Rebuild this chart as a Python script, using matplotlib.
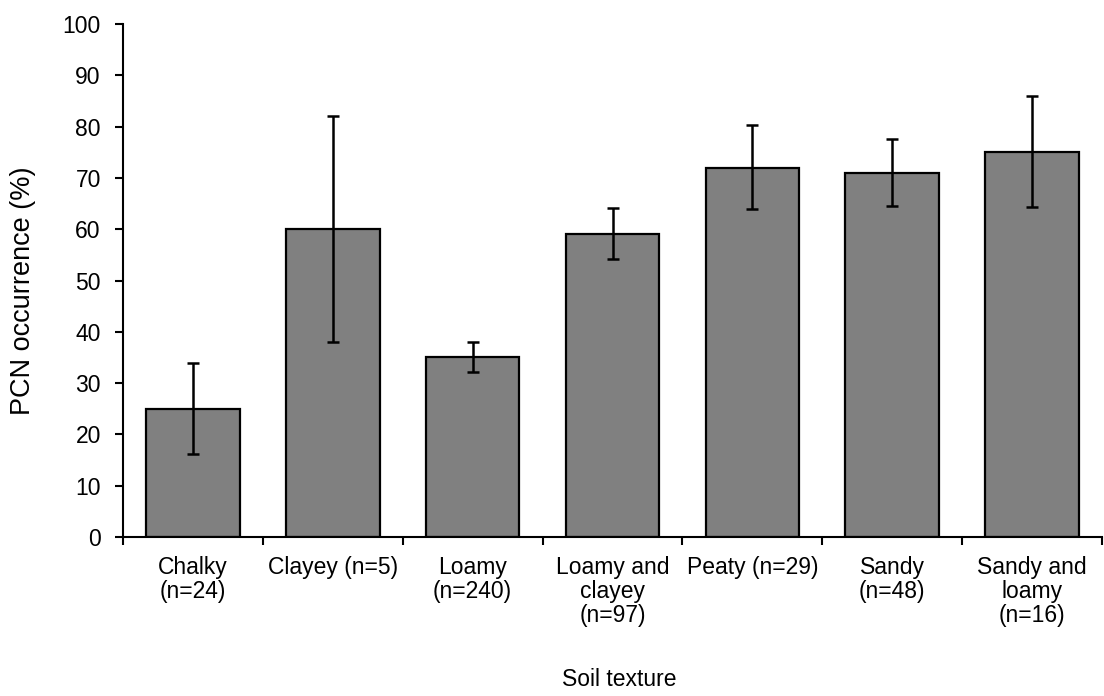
import numpy as np
import matplotlib.pyplot as plt

plt.rcParams['font.family'] = ['Liberation Sans', 'DejaVu Sans']

# PCN occurrence by soil texture, with asymmetric confidence limits
categories = ['Chalky\n(n=24)', 'Clayey (n=5)', 'Loamy\n(n=240)',
              'Loamy and\nclayey\n(n=97)', 'Peaty (n=29)', 'Sandy\n(n=48)',
              'Sandy and\nloamy\n(n=16)']
occurrence = [25, 60, 35, 59, 72, 71, 75]
lower_limit = [16.1, 38.1, 32.1, 54.1, 63.9, 64.5, 64.3]
upper_limit = [33.9, 82.1, 38.1, 64.1, 80.3, 77.6, 86.0]

x = np.arange(len(categories))
occ = np.array(occurrence)
yerr = [occ - np.array(lower_limit), np.array(upper_limit) - occ]

fig = plt.figure(figsize=(11.04, 6.96), dpi=100)
ax = fig.add_axes([123 / 1104, 1 - 537 / 696, (1102 - 123) / 1104, (537 - 24) / 696])

ax.bar(x, occ, width=0.67, color='#808080', edgecolor='black', linewidth=1.6,
       yerr=yerr, error_kw=dict(ecolor='black', elinewidth=1.8, capsize=4, capthick=1.8),
       zorder=2)

ax.set_xlim(-0.5, len(categories) - 0.5)
ax.set_ylim(0, 100)
ax.set_yticks(np.arange(0, 101, 10))

# ticks at category boundaries, labels at the bar centres
ax.set_xticks(np.arange(-0.5, len(categories), 1.0))
ax.set_xticklabels([])
ax.set_xticks(x, minor=True)
ax.set_xticklabels(categories, minor=True, fontsize=16.5, linespacing=1.04)
ax.tick_params(axis='x', which='minor', length=0, pad=14)
ax.tick_params(axis='x', which='major', length=6, width=1.5, direction='out')
ax.tick_params(axis='y', length=6, width=1.5, direction='out', labelsize=16.5, pad=10)

for side in ['top', 'right']:
    ax.spines[side].set_visible(False)
for side in ['left', 'bottom']:
    ax.spines[side].set_linewidth(1.5)

ax.set_ylabel('PCN occurrence (%)', fontsize=19.5)
ax.yaxis.set_label_coords(-87 / 979, 0.48)
fig.text(619 / 1104, 1 - 680 / 696, 'Soil texture', fontsize=16.5,
         ha='center', va='center')

fig.savefig('out.png', dpi=100)
